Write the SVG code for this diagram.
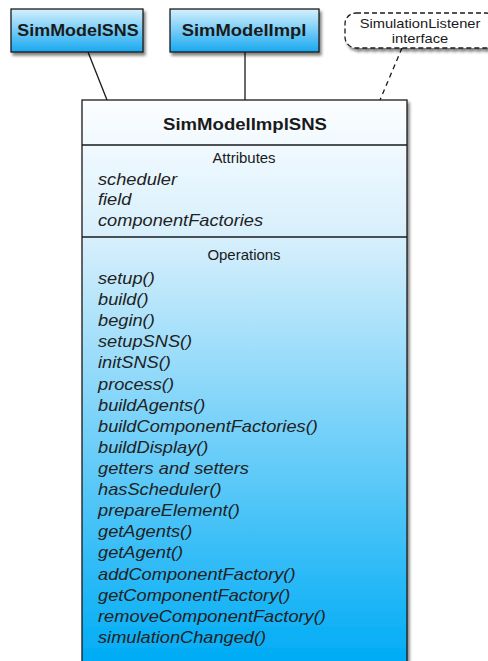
<svg xmlns="http://www.w3.org/2000/svg" width="488" height="661" viewBox="0 0 488 661">
<defs>
<linearGradient id="gSmall" x1="0" y1="0" x2="0" y2="1">
<stop offset="0" stop-color="#d4f0fd"/>
<stop offset="1" stop-color="#18a8f0"/>
</linearGradient>
<linearGradient id="gMain" gradientUnits="userSpaceOnUse" x1="0" y1="100" x2="0" y2="661">
<stop offset="0" stop-color="#fdfeff"/>
<stop offset="0.25" stop-color="#d6effc"/>
<stop offset="1" stop-color="#00acf5"/>
</linearGradient>
<filter id="sh" x="-10%" y="-10%" width="130%" height="140%">
<feGaussianBlur in="SourceAlpha" stdDeviation="1.5"/>
<feOffset dx="2" dy="3" result="b"/>
<feComponentTransfer><feFuncA type="linear" slope="0.5"/></feComponentTransfer>
<feMerge><feMergeNode/><feMergeNode in="SourceGraphic"/></feMerge>
</filter>
</defs>
<style>
.box{stroke:#1a1a1a;stroke-width:1.3}
.t{font-family:"Liberation Sans",Arial,sans-serif;fill:#1a1a1a}
.b{font-weight:bold;font-size:16px;text-anchor:middle}
.lbl{font-size:14px;text-anchor:middle}
.i{font-style:italic;font-size:16px;fill:#222}
.ln{stroke:#1a1a1a;stroke-width:1.3;fill:none}
</style>
<g id="connectors">
<line class="ln" x1="88" y1="52" x2="107" y2="100"/>
<line class="ln" x1="245" y1="52" x2="245" y2="100"/>
<line class="ln" x1="402" y1="48" x2="380" y2="100" stroke-dasharray="5,4"/>
</g>
<g id="SimModelSNS">
<rect class="box" x="11" y="9" width="132" height="43" fill="url(#gSmall)" filter="url(#sh)"/>
<text class="t b" x="0" y="36" transform="translate(78 0) scale(1.12 1)">SimModelSNS</text>
</g>
<g id="SimModelImpl">
<rect class="box" x="170" y="9" width="149" height="43" fill="url(#gSmall)" filter="url(#sh)"/>
<text class="t b" x="0" y="36" transform="translate(244 0) scale(1.15 1)">SimModelImpl</text>
</g>
<g id="SimulationListener">
<rect x="345" y="13" width="152" height="35" rx="11" ry="11" fill="#ffffff" stroke="#1a1a1a" stroke-width="1.3" stroke-dasharray="5,3" filter="url(#sh)"/>
<text class="t" x="0" y="28" font-size="13" text-anchor="middle" transform="translate(420 0) scale(1.13 1)">SimulationListener</text>
<text class="t" x="0" y="43" font-size="13" text-anchor="middle" transform="translate(420 0) scale(1.13 1)">interface</text>
</g>
<g id="SimModelImplSNS">
<rect class="box" x="82" y="100" width="325" height="570" fill="url(#gMain)" filter="url(#sh)"/>
<line class="ln" x1="82" y1="145" x2="407" y2="145"/>
<line class="ln" x1="82" y1="237" x2="407" y2="237"/>
<text class="t b" x="0" y="130" transform="translate(245 0) scale(1.16 1)">SimModelImplSNS</text>
<text class="t lbl" x="0" y="163" transform="translate(244 0) scale(1.07 1)">Attributes</text>
<text class="t lbl" x="0" y="260" transform="translate(244 0) scale(1.07 1)">Operations</text>
<g transform="translate(98 0) scale(1.14 1)">
<text class="t i" x="0" y="185">scheduler</text>
<text class="t i" x="0" y="205">field</text>
<text class="t i" x="0" y="226">componentFactories</text>
<text class="t i" x="0" y="284">setup()</text>
<text class="t i" x="0" y="305">build()</text>
<text class="t i" x="0" y="326">begin()</text>
<text class="t i" x="0" y="347">setupSNS()</text>
<text class="t i" x="0" y="368">initSNS()</text>
<text class="t i" x="0" y="390">process()</text>
<text class="t i" x="0" y="411">buildAgents()</text>
<text class="t i" x="0" y="432">buildComponentFactories()</text>
<text class="t i" x="0" y="453">buildDisplay()</text>
<text class="t i" x="0" y="474">getters and setters</text>
<text class="t i" x="0" y="495">hasScheduler()</text>
<text class="t i" x="0" y="516">prepareElement()</text>
<text class="t i" x="0" y="537">getAgents()</text>
<text class="t i" x="0" y="558">getAgent()</text>
<text class="t i" x="0" y="580">addComponentFactory()</text>
<text class="t i" x="0" y="601">getComponentFactory()</text>
<text class="t i" x="0" y="622">removeComponentFactory()</text>
<text class="t i" x="0" y="643">simulationChanged()</text>
</g>
</g>
</svg>
